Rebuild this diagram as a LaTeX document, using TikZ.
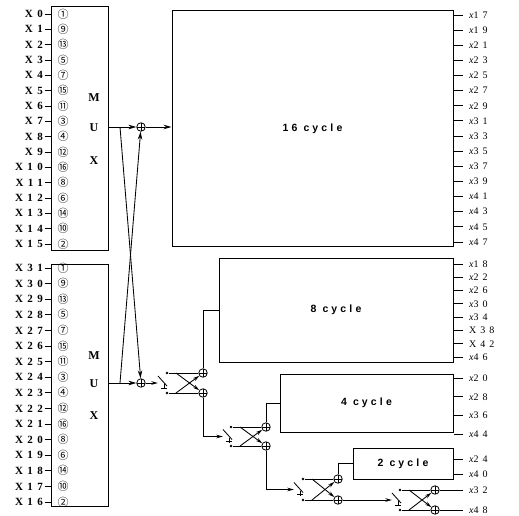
\documentclass[tikz,border=0pt]{standalone}
\usepackage{fontspec}
\setmainfont{Liberation Serif}
\newfontfamily\lblfont[LetterSpace=40]{Liberation Serif}
\newfontfamily\cycfont[LetterSpace=30]{Liberation Sans}
\newfontfamily\cjk{Noto Sans CJK JP}
\usetikzlibrary{arrows.meta}
\newcommand\xlab[1]{{\itshape x}#1}
\newcommand\swsym[1]{%
  \draw[wire] ([shift={(-4,-7)}]#1.center) -- ([shift={(5,3)}]#1.center);
  \draw[wire] ([shift={(2,1)}]#1.center) -- ([shift={(2,6)}]#1.center);
  \draw[wire] ([shift={(-1,5)}]#1.center) -- ([shift={(5,5)}]#1.center);}
\tikzset{
  wire/.style={line width=0.85pt},
  lbl/.style={inner sep=0pt,anchor=east,font=\lblfont\bfseries\fontsize{11}{11}\selectfont},
  rlbl/.style={inner sep=0pt,anchor=west,font=\lblfont\fontsize{10}{10}\selectfont},
  circnum/.style={inner sep=0pt,font=\cjk\fontsize{11}{11}\selectfont},
  blk/.style={draw,line width=1pt,inner sep=0pt},
  cyctext/.style={font=\cycfont\bfseries\fontsize{10.5}{10.5}\selectfont},
  muxletter/.style={inner sep=0pt,font=\bfseries\fontsize{12}{12}\selectfont},
  oplus/.style={circle,draw,line width=0.8pt,minimum size=8.5pt,inner sep=0pt,
    path picture={\draw[line width=0.6pt] (path picture bounding box.north)--(path picture bounding box.south)
      (path picture bounding box.west)--(path picture bounding box.east);}},
  dotnode/.style={circle,fill,minimum size=2.6pt,inner sep=0pt},
  swnode/.style={minimum width=8pt,minimum height=14pt,inner sep=0pt},
  arr/.style={wire,-{Stealth[length=8pt,width=4.5pt]}},
  sarr/.style={wire,-{Stealth[length=6.5pt,width=3.6pt]}},
}
\begin{document}
\begin{tikzpicture}[x=1pt,y=-1pt]
\useasboundingbox (0,0) rectangle (519,516);
% MUX boxes
\node[blk,minimum width=57pt,minimum height=243pt] (muxA) at (79.5,128.5) {};
\node[blk,minimum width=57pt,minimum height=242pt] (muxB) at (79.5,385) {};
\node[muxletter] (mA1) at (94,98) {M};
\node[muxletter] (mA2) at (94,128) {U};
\node[muxletter] (mA3) at (94,161) {X};
\node[muxletter] (mB1) at (94,356) {M};
\node[muxletter] (mB2) at (94,384) {U};
\node[muxletter] (mB3) at (94,416) {X};
% inputs
\foreach \n [count=\i from 0] in {①,⑨,⑬,⑤,⑦,⑮,⑪,③,④,⑫,⑯,⑧,⑥,⑭,⑩,②} {
  \pgfmathsetmacro\yy{14+\i*15.33}
  \node[lbl] (inA\i) at (43,\yy) {X\i};
  \draw[wire] ([xshift=1.5pt]inA\i.east) -- (inA\i.east -| muxA.west);
  \node[circnum] (cA\i) at (63,\yy) {\n};
  \pgfmathsetmacro\yb{268+\i*15.6}
  \pgfmathtruncatemacro\num{31-\i}
  \node[lbl] (inB\i) at (43,\yb) {X\num};
  \draw[wire] ([xshift=1.5pt]inB\i.east) -- (inB\i.east -| muxB.west);
  \node[circnum] (cB\i) at (63,\yb) {\n};
}
% cycle boxes
\node[blk,minimum width=281pt,minimum height=235pt,cyctext] (box16) at (312.5,128.5) {16 cycle};
\node[blk,minimum width=234pt,minimum height=104pt,cyctext] (box8) at (336,310) {8 cycle};
\node[blk,minimum width=173pt,minimum height=58pt,cyctext] (box4) at (366.5,403) {4 cycle};
\node[blk,minimum width=100pt,minimum height=31pt,cyctext] (box2) at (403,463.5) {2 cycle};
% right labels
\foreach \k [count=\i from 0] in {17,19,...,47} {
  \pgfmathsetmacro\yy{15+\i*15.13}
  \node[rlbl] (ra\i) at (469,\yy) {\xlab{\k}};
  \draw[wire] (ra\i.west -| box16.east) -- ([xshift=-6pt]ra\i.west);
}
\foreach \t [count=\i from 0] in {\xlab{18},\xlab{22},\xlab{26},\xlab{30},\xlab{34},X38,X42,\xlab{46}} {
  \pgfmathsetmacro\yy{264+\i*13.3}
  \node[rlbl] (rb\i) at (469,\yy) {\t};
  \draw[wire] (rb\i.west -| box8.east) -- ([xshift=-6pt]rb\i.west);
}
\foreach \k [count=\i from 0] in {20,28,36,44} {
  \pgfmathsetmacro\yy{378+\i*18.8}
  \node[rlbl] (rc\i) at (469,\yy) {\xlab{\k}};
  \draw[wire] (rc\i.west -| box4.east) -- ([xshift=-6pt]rc\i.west);
}
\node[rlbl] (rd0) at (469,459) {\xlab{24}};
\node[rlbl] (rd1) at (469,474) {\xlab{40}};
\draw[wire] (rd0.west -| box2.east) -- ([xshift=-6pt]rd0.west);
\draw[wire] (rd1.west -| box2.east) -- ([xshift=-6pt]rd1.west);
% adders after the MUXes
\node[oplus] (pA) at (141,127) {};
\node[oplus] (pB) at (141,383) {};
\coordinate (jA) at (120,127);
\coordinate (jB) at (120,383);
\draw[arr] (muxA.east |- pA) -- (pA.west);
\draw[arr] (pA.east) -- (box16.west |- pA);
\draw[arr] (muxB.east |- pB) -- (pB.west);
\draw[arr] (jA) -- (pB);
\draw[arr] (jB) -- (pA);
% butterfly 1
\node[swnode] (sw1) at (162,383) {};
\node[dotnode] (d1u) at (167,373) {};
\node[dotnode] (d1l) at (167,393) {};
\node[oplus] (c1u) at (203,373) {};
\node[oplus] (c1l) at (203,393) {};
\coordinate (k1u) at (176,373);
\coordinate (k1l) at (176,393);
\draw[sarr] (pB.east) -- (sw1.west);
\swsym{sw1}
\draw[wire] (d1u) -- (c1u); \draw[wire] (d1l) -- (c1l);
\draw[sarr] (k1u) -- (c1l); \draw[sarr] (k1l) -- (c1u);
\draw[wire] (c1u.north) |- (box8.west);
% butterfly 2
\node[swnode] (sw2) at (227,436.5) {};
\node[dotnode] (d2u) at (231,427) {};
\node[dotnode] (d2l) at (231,446) {};
\node[oplus] (c2u) at (266,427) {};
\node[oplus] (c2l) at (266,446) {};
\coordinate (k2u) at (240,427);
\coordinate (k2l) at (240,446);
\draw[sarr] (c1l.south) |- (sw2.west);
\swsym{sw2}
\draw[wire] (d2u) -- (c2u); \draw[wire] (d2l) -- (c2l);
\draw[sarr] (k2u) -- (c2l); \draw[sarr] (k2l) -- (c2u);
\draw[wire] (c2u.north) |- (box4.west);
% butterfly 3
\node[swnode] (sw3) at (298,489.5) {};
\node[dotnode] (d3u) at (303,479) {};
\node[dotnode] (d3l) at (303,500) {};
\node[oplus] (c3u) at (338,479) {};
\node[oplus] (c3l) at (338,500) {};
\coordinate (k3u) at (312,479);
\coordinate (k3l) at (312,500);
\draw[sarr] (c2l.south) |- (sw3.west);
\swsym{sw3}
\draw[wire] (d3u) -- (c3u); \draw[wire] (d3l) -- (c3l);
\draw[sarr] (k3u) -- (c3l); \draw[sarr] (k3l) -- (c3u);
\draw[wire] (c3u.north) |- (box2.west);
% butterfly 4
\node[swnode] (sw4) at (396,500) {};
\node[dotnode] (d4u) at (400,490) {};
\node[dotnode] (d4l) at (400,510) {};
\node[oplus] (c4u) at (435,490) {};
\node[oplus] (c4l) at (435,510) {};
\coordinate (k4u) at (409,490);
\coordinate (k4l) at (409,510);
\draw[sarr] (c3l.east) -- (sw4.west);
\swsym{sw4}
\draw[wire] (d4u) -- (c4u); \draw[wire] (d4l) -- (c4l);
\draw[sarr] (k4u) -- (c4l); \draw[sarr] (k4l) -- (c4u);
\node[rlbl] (o32) at (469,490) {\xlab{32}};
\node[rlbl] (o48) at (469,510) {\xlab{48}};
\draw[wire] (c4u.east) -- ([xshift=-6pt]o32.west);
\draw[wire] (c4l.east) -- ([xshift=-6pt]o48.west);
\end{tikzpicture}
\end{document}
